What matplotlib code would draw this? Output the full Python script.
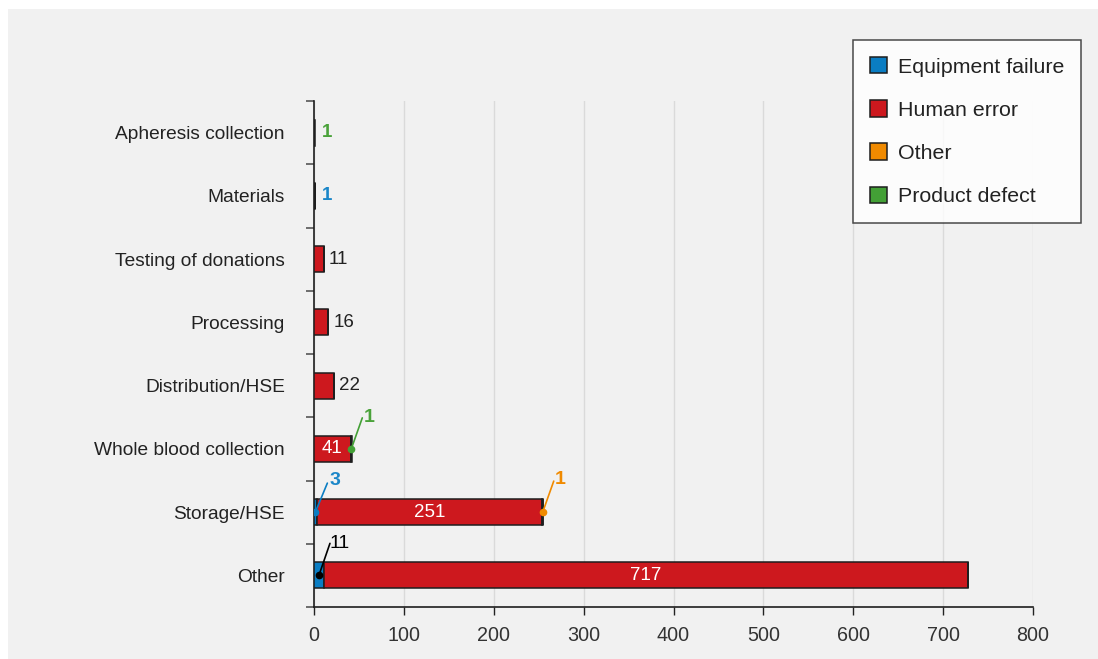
import matplotlib
matplotlib.use("Agg")
import matplotlib.pyplot as plt
from matplotlib.patches import Rectangle, Patch
import numpy as np

plt.rcParams['font.family'] = ['Liberation Sans', 'DejaVu Sans']

categories = ["Apheresis collection", "Materials", "Testing of donations", "Processing",
              "Distribution/HSE", "Whole blood collection", "Storage/HSE", "Other"]
series_names = ["Equipment failure", "Human error", "Other", "Product defect"]
equipment = [0, 1, 0, 0, 0, 0, 3, 11]
human = [0, 0, 11, 16, 22, 41, 251, 717]
other = [0, 0, 0, 0, 0, 0, 1, 0]
product = [1, 0, 0, 0, 0, 1, 0, 0]
xticks = [0, 100, 200, 300, 400, 500, 600, 700, 800]

colors = ["#0a7dc3", "#cd181e", "#f08a00", "#43a036"]
label_colors = ["#1a86c8", "#222222", "#f08a00", "#4aa23a"]
text_col = "#222222"

fig = plt.figure(figsize=(10.98, 6.59), dpi=100)
fig.patch.set_facecolor("white")
fig.patches.append(Rectangle((8 / 1098, 0), 1, (659 - 9) / 659, transform=fig.transFigure,
                             facecolor="#f1f1f1", edgecolor="none", zorder=-10))

ax = fig.add_axes([314 / 1098, 52 / 659, (1033 - 314) / 1098, (607 - 101) / 659])
ax.set_facecolor("none")

y = np.arange(len(categories))
series = [equipment, human, other, product]
left = np.zeros(len(categories))
bar_h = 0.41
for vals, col, name in zip(series, colors, series_names):
    vals = np.array(vals, dtype=float)
    ax.barh(y, vals, left=left, height=bar_h, color=col, edgecolor="#1e1e1e",
            linewidth=1.1, label=name, zorder=3)
    left += vals

# (row, series) -> line end offset, text offset, in pixels from the dot
leader_offsets = {
    (5, 3): ((11, 31), (18, 33)),
    (6, 0): ((12, 29), (20, 34)),
    (6, 2): ((11, 31), (17, 35)),
    (7, 0): ((11, 32), (21, 34)),
}

for i in range(len(categories)):
    nonzero = [s for s in range(4) if series[s][i] > 0]
    start = 0
    for s in range(4):
        v = series[s][i]
        if v == 0:
            continue
        if s == 1 and v >= 30:
            ax.text(start + v / 2, i, str(v), color="white", ha="center", va="center",
                    fontsize=13.5, zorder=5)
        elif s == 1:
            ax.annotate(str(v), xy=(start + v, i), xytext=(5, 0), textcoords="offset pixels",
                        ha="left", va="center", fontsize=13.5, color=text_col)
        elif len(nonzero) == 1:
            ax.annotate(str(v), xy=(start + v, i), xytext=(7, 0), textcoords="offset pixels",
                        ha="left", va="center", fontsize=13.5, color=label_colors[s],
                        fontweight="bold")
        else:
            (lx, ly), (tx, ty) = leader_offsets[(i, s)]
            black = (s == 0 and i == 7)
            col = "black" if black else label_colors[s]
            lc = "black" if black else colors[s]
            px = start + v / 2
            ax.plot(px, i, "o", color=lc, markersize=4.5, zorder=6)
            ax.annotate("", xy=(px, i), xytext=(lx, ly), textcoords="offset pixels",
                        arrowprops=dict(arrowstyle="-", color=lc, lw=1.2,
                                        shrinkA=0, shrinkB=0), zorder=6)
            ax.annotate(str(v), xy=(px, i), xytext=(tx, ty), textcoords="offset pixels",
                        ha="center", va="center_baseline", fontsize=14, color=col,
                        fontweight="normal" if black else "bold", zorder=6)
        start += v

ax.set_xlim(0, 800)
ax.set_ylim(len(categories) - 0.5, -0.5)
ax.set_xticks(xticks)
ax.set_xticklabels([str(t) for t in xticks], fontsize=14.2, color="#333333")
ax.tick_params(axis="x", direction="out", length=6, width=1, color="#222222", pad=8)

ax.set_yticks(np.arange(-0.5, len(categories), 1.0))
ax.set_yticklabels([])
ax.set_yticks(y, minor=True)
ax.set_yticklabels(categories, minor=True, fontsize=13.8, color=text_col)
ax.tick_params(axis="y", which="major", direction="out", length=6, width=1.2, color="#555555")
ax.tick_params(axis="y", which="minor", length=0, pad=21)

ax.grid(axis="x", color="#dadada", linewidth=1, zorder=0)
ax.set_axisbelow(True)
for sp in ["top", "right"]:
    ax.spines[sp].set_visible(False)
ax.spines["left"].set_color("#1e1e1e")
ax.spines["bottom"].set_color("#1e1e1e")
ax.spines["left"].set_linewidth(1.2)
ax.spines["bottom"].set_linewidth(1.2)

handles = [Patch(facecolor=c, edgecolor="#1e1e1e", linewidth=1.1) for c in colors]
leg = fig.legend(handles, series_names, loc="upper right",
                 bbox_to_anchor=(1081 / 1098, (659 - 40) / 659), bbox_transform=fig.transFigure,
                 fontsize=15.4, frameon=True, fancybox=False, edgecolor="#1e1e1e",
                 handlelength=0.8, handleheight=0.8, handletextpad=0.5,
                 labelspacing=1.1, borderpad=0.8, borderaxespad=0)
leg.get_frame().set_linewidth(1.1)
leg.get_frame().set_facecolor("white")
for t in leg.get_texts():
    t.set_color(text_col)

fig.savefig("out.png", dpi=100)
